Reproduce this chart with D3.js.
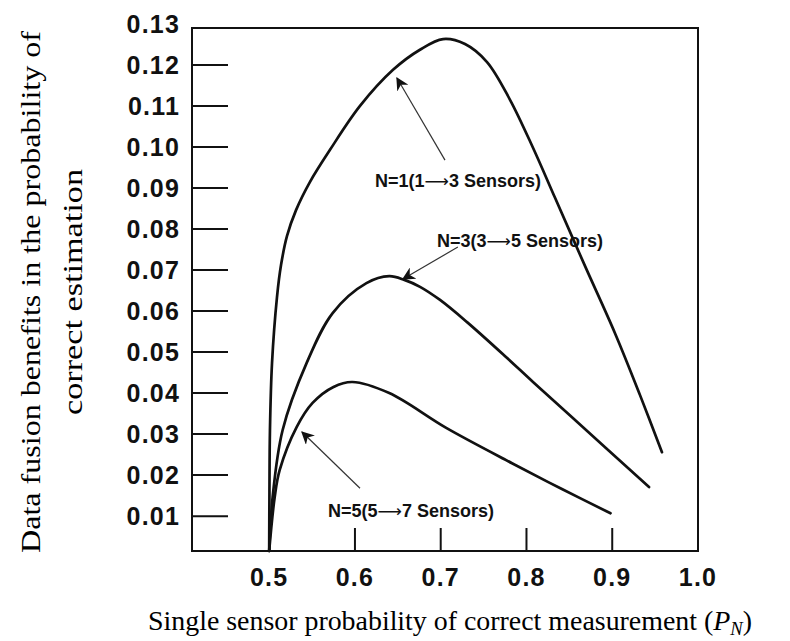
<!DOCTYPE html>
<html lang="en">
<head>
  <meta charset="UTF-8">
  <title>Data fusion benefits</title>
  <style>
    html, body {
      margin: 0;
      padding: 0;
      background: #fff;
      overflow: hidden;
    }
    svg { display: block; }
    .tick-label {
      font-family: 'Liberation Sans', Arial, sans-serif;
      font-weight: bold;
      font-size: 25px;
      letter-spacing: 1.2px;
      fill: #111;
    }
    .note {
      font-family: 'Liberation Sans', Arial, sans-serif;
      font-weight: bold;
      font-size: 18px;
      fill: #111;
    }
    .note .arr {
      font-family: 'DejaVu Sans', sans-serif;
      font-weight: normal;
      font-size: 17px;
    }
    .title {
      font-family: 'Liberation Serif', 'Times New Roman', serif;
      font-size: 27px;
      fill: #000;
    }
  </style>
</head>
<body>
<svg width="790" height="641"></svg>
<script src="https://d3js.org/d3.v7.min.js"></script>
<script>
const svg = d3.select("svg");

// axis ticks
const xTicks = [0.5, 0.6, 0.7, 0.8, 0.9, 1.0];
const yTicks = [0.01, 0.02, 0.03, 0.04, 0.05, 0.06, 0.07, 0.08, 0.09, 0.10, 0.11, 0.12, 0.13];

// curves (P_N, benefit)
const n1P = [0.500, 0.5003, 0.5009, 0.5033, 0.5091, 0.5138, 0.5208, 0.5313, 0.5476, 0.5709, 0.6059, 0.6444, 0.6758, 0.7027, 0.7283, 0.7540, 0.7808, 0.8076, 0.8333, 0.8682, 0.9032, 0.9324, 0.9580];
const n1V = [0.0015, 0.016, 0.031, 0.0473, 0.0634, 0.0712, 0.0783, 0.0846, 0.0915, 0.0993, 0.1100, 0.1188, 0.1237, 0.1263, 0.1251, 0.1207, 0.1115, 0.0998, 0.0876, 0.0710, 0.0546, 0.0395, 0.0256];

const n3P = [0.500, 0.504, 0.5157, 0.5436, 0.574, 0.6134, 0.640, 0.6576, 0.6759, 0.6992, 0.7307, 0.7761, 0.8076, 0.8531, 0.9429];
const n3V = [0.0015, 0.0146, 0.031, 0.0473, 0.0595, 0.0668, 0.0685, 0.0676, 0.0659, 0.0627, 0.0573, 0.0488, 0.0427, 0.0341, 0.0171];

const n5P = [0.500, 0.5064, 0.5122, 0.532, 0.5506, 0.575, 0.597, 0.640, 0.7064, 0.7831, 0.8413, 0.898];
const n5V = [0.0015, 0.0146, 0.0212, 0.0317, 0.0376, 0.0415, 0.0427, 0.0400, 0.0315, 0.0229, 0.0166, 0.0107];

// annotations: label anchor, arrow tail, arrow tip
const noteN = ["1", "3", "5"];
const noteFrom = ["1", "3", "5"];
const noteTo = ["3", "5", "7"];
const noteP = [0.6234, 0.6957, 0.5686];
const noteV = [0.0902, 0.0756, 0.0098];
const tailP = [0.705, 0.720, 0.6059];
const tailV = [0.0968, 0.0756, 0.0168];
const tipP = [0.649, 0.656, 0.5383];
const tipV = [0.1168, 0.0678, 0.0305];

const m = { left: 192, right: 698, top: 28, bottom: 551 };

const x = d3.scaleLinear().domain([0.41, 1.0]).range([m.left, m.right]);
const y = d3.scaleLinear().domain([0.0015, 0.129]).range([m.bottom, m.top]);

// frame
svg.append("rect")
  .attr("x", m.left).attr("y", m.top)
  .attr("width", m.right - m.left).attr("height", m.bottom - m.top)
  .attr("fill", "none").attr("stroke", "#111").attr("stroke-width", 2);

// y ticks (pointing inward) + labels
svg.selectAll(".ytick")
  .data(yTicks.filter(d => d < 0.125))
  .enter().append("line")
  .attr("x1", m.left).attr("x2", m.left + 36)
  .attr("y1", d => y(d)).attr("y2", d => y(d))
  .attr("stroke", "#111").attr("stroke-width", 2);

svg.selectAll(".ylab")
  .data(yTicks)
  .enter().append("text")
  .attr("class", "tick-label")
  .attr("x", 180)
  .attr("y", d => y(d))
  .attr("dy", "0.35em")
  .attr("text-anchor", "end")
  .text(d => d.toFixed(2));

// x ticks
svg.selectAll(".xtick")
  .data(xTicks.filter(d => d < 1))
  .enter().append("line")
  .attr("x1", d => x(d)).attr("x2", d => x(d))
  .attr("y1", m.bottom).attr("y2", m.bottom - 23)
  .attr("stroke", "#111").attr("stroke-width", 2);

svg.selectAll(".xlab")
  .data(xTicks)
  .enter().append("text")
  .attr("class", "tick-label")
  .attr("x", d => x(d))
  .attr("y", 577)
  .attr("dy", "0.35em")
  .attr("text-anchor", "middle")
  .text(d => d.toFixed(1));

// curves
const line = d3.line()
  .x(d => x(d[0]))
  .y(d => y(d[1]))
  .curve(d3.curveCatmullRom.alpha(0.5));

[[n1P, n1V], [n3P, n3V], [n5P, n5V]].forEach(([ps, vs]) => {
  svg.append("path")
    .datum(d3.zip(ps, vs))
    .attr("d", line)
    .attr("fill", "none")
    .attr("stroke", "#111")
    .attr("stroke-width", 2.7)
    .attr("stroke-linejoin", "round")
    .attr("stroke-linecap", "round");
});

// arrows
svg.append("defs").append("marker")
  .attr("id", "head")
  .attr("viewBox", "0 0 10 10")
  .attr("refX", 9).attr("refY", 5)
  .attr("markerWidth", 13).attr("markerHeight", 13)
  .attr("markerUnits", "userSpaceOnUse")
  .attr("orient", "auto")
  .append("path")
  .attr("d", "M0,0 L10,5 L0,10 L3,5 Z")
  .attr("fill", "#111");

noteN.forEach((n, i) => {
  svg.append("line")
    .attr("x1", x(tailP[i])).attr("y1", y(tailV[i]))
    .attr("x2", x(tipP[i])).attr("y2", y(tipV[i]))
    .attr("stroke", "#333").attr("stroke-width", 1.2)
    .attr("marker-end", "url(#head)");
  const t = svg.append("text")
    .attr("class", "note")
    .attr("x", x(noteP[i]))
    .attr("y", y(noteV[i]));
  t.append("tspan").text(`N=${n}(${noteFrom[i]}`);
  t.append("tspan").attr("class", "arr").text("\u27F6");
  t.append("tspan").text(`${noteTo[i]} Sensors)`);
});

// axis titles
const xt = svg.append("text")
  .attr("class", "title")
  .attr("x", 450).attr("y", 630)
  .attr("text-anchor", "middle")
  .attr("textLength", 604)
  .attr("lengthAdjust", "spacingAndGlyphs");
xt.append("tspan").text("Single sensor probability of correct measurement (");
xt.append("tspan").attr("font-style", "italic").text("P");
xt.append("tspan").attr("font-style", "italic").attr("font-size", "18px").attr("dy", 5).text("N");
xt.append("tspan").attr("dy", -5).text(")");

const yt = svg.append("g").attr("transform", "translate(40,292) rotate(-90)");
yt.append("text")
  .attr("class", "title")
  .attr("text-anchor", "middle")
  .attr("textLength", 522)
  .attr("lengthAdjust", "spacingAndGlyphs")
  .text("Data fusion benefits in the probability of");
yt.append("text")
  .attr("class", "title")
  .attr("y", 42)
  .attr("text-anchor", "middle")
  .attr("textLength", 246)
  .attr("lengthAdjust", "spacingAndGlyphs")
  .text("correct estimation");
</script>
</body>
</html>
